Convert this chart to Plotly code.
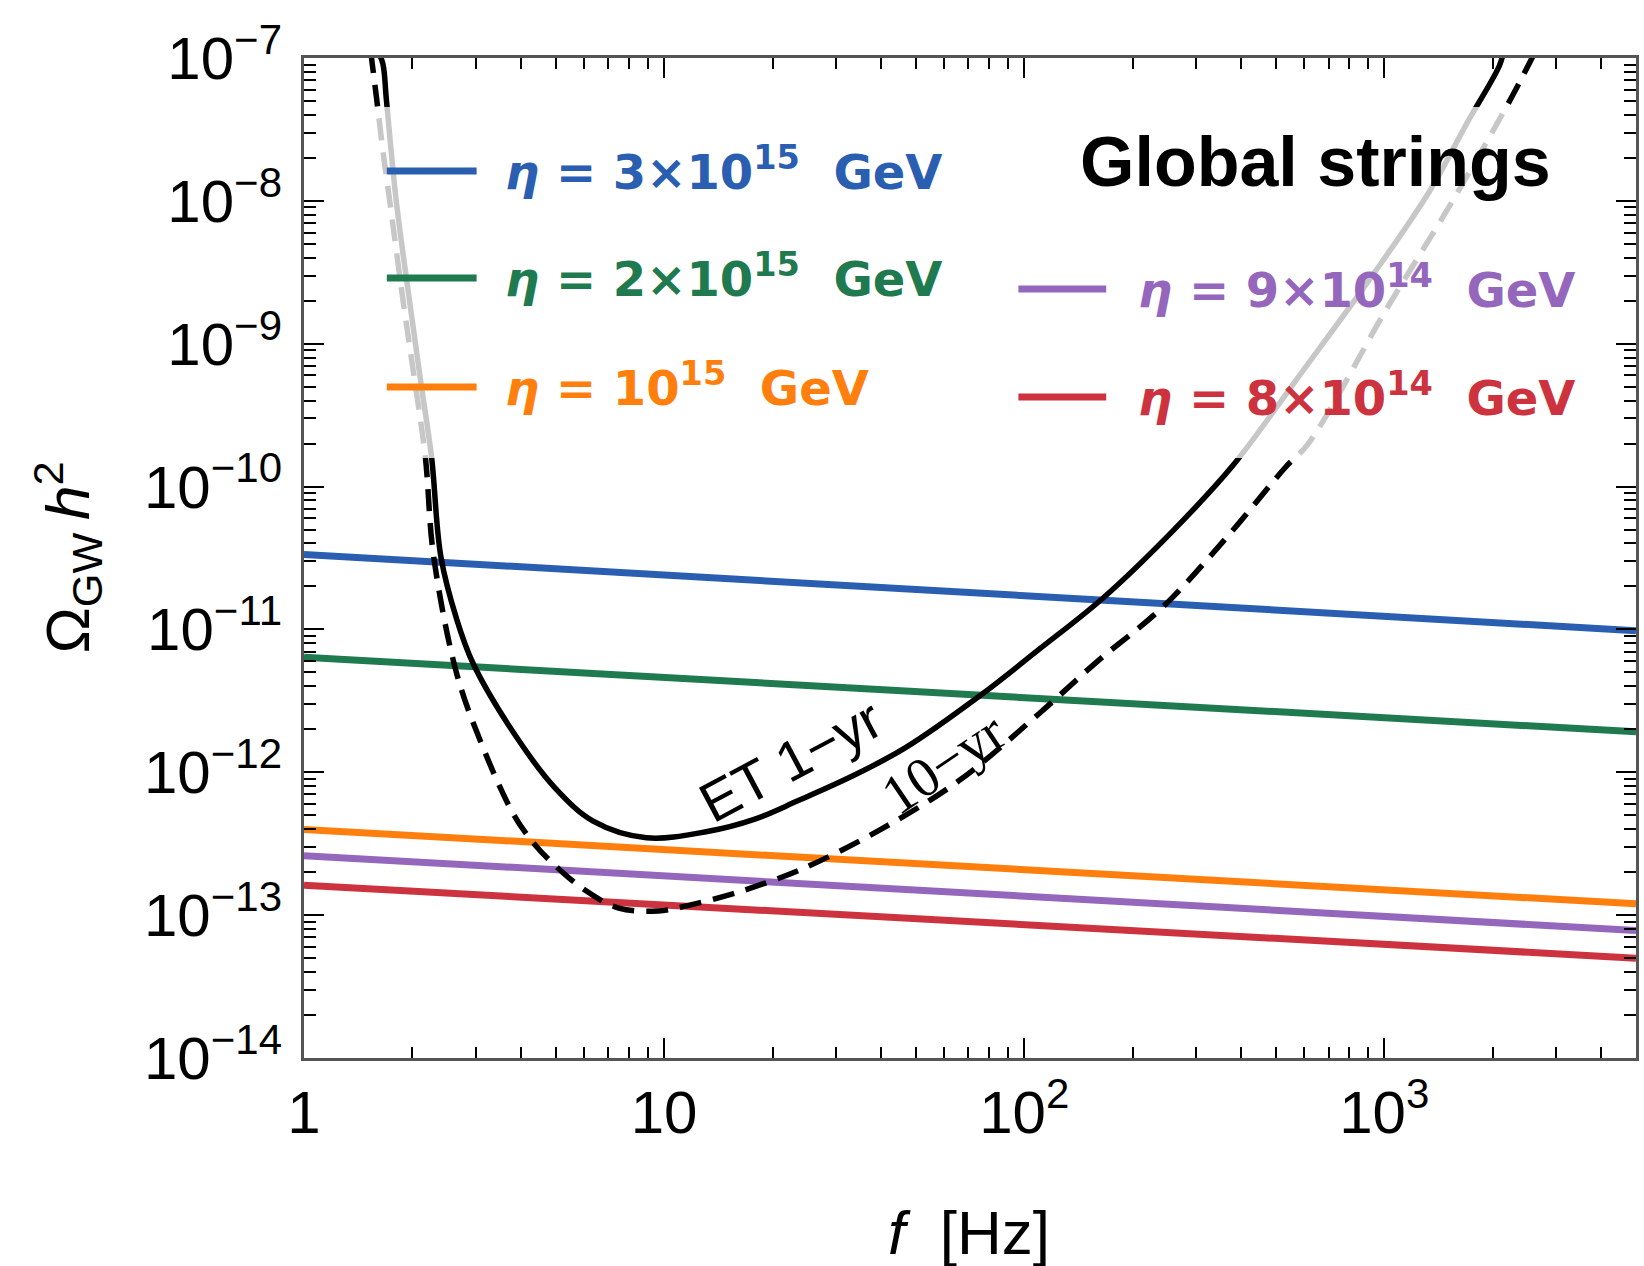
import plotly.graph_objects as go

# ---------------- data ----------------
# ET 1-yr sensitivity curve (solid)
f_et1 = [1.603, 1.656, 1.694, 1.803, 1.963, 2.113, 2.260, 2.399, 2.649, 2.951, 3.899,
         4.977, 6.353, 8.93, 13.18, 17.78, 23.5, 33.1, 46.7, 75.3, 109.9, 165.6,
         258.8, 377.6, 590.0, 940.0, 1330.0, 1710.0, 2090.0, 2150.0]
omega_et1 = [1.12e-7, 9.1e-8, 5.06e-8, 1.01e-8, 2.0e-9, 5.25e-10, 1.62e-10, 3.24e-11,
             1.20e-11, 5.75e-12, 1.75e-12, 7.78e-13, 4.55e-13, 3.48e-13, 3.85e-13,
             4.68e-13, 6.31e-13, 9.33e-13, 1.48e-12, 3.43e-12, 7.24e-12, 1.66e-11,
             4.90e-11, 1.38e-10, 6.31e-10, 3.16e-9, 1.15e-8, 3.63e-8, 8.9e-8, 1.15e-7]

# ET 10-yr sensitivity curve (dashed)
f_et10 = [1.531, 1.589, 1.656, 1.730, 1.884, 2.004, 2.173, 2.286, 2.642, 3.062,
          3.811, 4.355, 4.920, 5.998, 7.482, 9.638, 12.02, 15.24, 18.62, 24.04,
          39.3, 65.8, 109.9, 160.3, 241.5, 364.8, 530.9, 615.2, 1021.0, 1514.0,
          2153.0, 2443.0, 2630.0]
omega_et10 = [1.12e-7, 5.33e-8, 2.25e-8, 1.0e-8, 2.0e-9, 6.84e-10, 1.60e-10, 3.39e-11,
              5.13e-12, 1.75e-12, 5.13e-13, 3.16e-13, 2.29e-13, 1.51e-13, 1.12e-13,
              1.07e-13, 1.19e-13, 1.39e-13, 1.64e-13, 2.09e-13, 3.89e-13, 8.71e-13,
              2.57e-12, 6.03e-12, 1.42e-11, 4.40e-11, 1.36e-10, 2.0e-10, 1.80e-9,
              9.12e-9, 4.27e-8, 7.76e-8, 1.12e-7]

# global-string GW spectra for several symmetry-breaking scales
f_grid = [1, 10, 100, 1000, 5000]
omega_eta_3e15 = [3.35e-11, 2.40e-11, 1.72e-11, 1.23e-11, 9.8e-12]
omega_eta_2e15 = [6.38e-12, 4.61e-12, 3.33e-12, 2.41e-12, 1.92e-12]
omega_eta_1e15 = [3.98e-13, 2.88e-13, 2.09e-13, 1.51e-13, 1.20e-13]
omega_eta_9e14 = [2.61e-13, 1.88e-13, 1.36e-13, 9.8e-14, 7.8e-14]
omega_eta_8e14 = [1.62e-13, 1.18e-13, 8.6e-14, 6.25e-14, 5.0e-14]

eta_labels = ["<i>η</i> = 3×10<sup>15</sup>\u00a0\u00a0GeV",
              "<i>η</i> = 2×10<sup>15</sup>\u00a0\u00a0GeV",
              "<i>η</i> = 10<sup>15</sup>\u00a0\u00a0GeV",
              "<i>η</i> = 9×10<sup>14</sup>\u00a0\u00a0GeV",
              "<i>η</i> = 8×10<sup>14</sup>\u00a0\u00a0GeV"]
eta_colors = ["#2a5eb0", "#1f7a50", "#ff7f0e", "#9467bd", "#cc333f"]

y_tickvals = [1e-14, 1e-13, 1e-12, 1e-11, 1e-10, 1e-9, 1e-8, 1e-7]
y_ticktext = ["10<sup>−14</sup>", "10<sup>−13</sup>", "10<sup>−12</sup>", "10<sup>−11</sup>",
              "10<sup>−10</sup>", "10<sup>−9</sup>", "10<sup>−8</sup>", "10<sup>−7</sup>"]
x_tickvals = [1, 10, 100, 1000]
x_ticktext = ["1", "10", "10<sup>2</sup>", "10<sup>3</sup>"]

# ---------------- figure ----------------
W, H = 1644, 1266
ML, MR, MT, MB = 304, 5, 58, 208
PW, PH = W - ML - MR, H - MT - MB


def px(xp):
    return (xp - ML) / PW


def py(yp):
    return (H - MB - yp) / PH


fig = go.Figure()

series = [omega_eta_3e15, omega_eta_2e15, omega_eta_1e15, omega_eta_9e14, omega_eta_8e14]
for vals, col, lab in zip(series, eta_colors, eta_labels):
    fig.add_trace(go.Scatter(x=f_grid, y=vals, mode="lines", name=lab,
                             line=dict(color=col, width=7), showlegend=False))

fig.add_trace(go.Scatter(x=f_et1, y=omega_et1, mode="lines", name="ET 1-yr",
                         line=dict(color="black", width=5.5, shape="spline", smoothing=1.0),
                         showlegend=False))
fig.add_trace(go.Scatter(x=f_et10, y=omega_et10, mode="lines", name="ET 10-yr",
                         line=dict(color="black", width=5.5, dash="22px,12px",
                                   shape="spline", smoothing=1.0),
                         showlegend=False))

shapes = []
# translucent white band behind the legend (fades the curves there)
shapes.append(dict(type="rect", xref="paper", yref="paper", x0=0.02, x1=0.98,
                   y0=py(458), y1=py(107), fillcolor="rgba(255,255,255,0.78)",
                   line=dict(width=0), layer="above"))

# legend sample lines
leg_pos = [(387, 477, 171), (387, 477, 278), (387, 477, 387),
           (1020, 1108, 289), (1020, 1108, 397)]
text_x = [503, 503, 503, 1138, 1138]
annotations = []
for (x0, x1, yy), col, lab, tx in zip(leg_pos, eta_colors, eta_labels, text_x):
    shapes.append(dict(type="line", xref="paper", yref="paper", x0=px(x0), x1=px(x1),
                       y0=py(yy), y1=py(yy), line=dict(color=col, width=7), layer="above"))
    annotations.append(dict(xref="paper", yref="paper", x=px(tx), y=py(yy - 2),
                            xanchor="left", yanchor="middle", showarrow=False, text=lab,
                            font=dict(family="DejaVu Sans", size=48, color=col,
                                      weight="bold")))

annotations.append(dict(xref="paper", yref="paper", x=px(1318), y=py(162),
                        xanchor="center", yanchor="middle", showarrow=False,
                        text="Global strings",
                        font=dict(family="Liberation Sans", size=70, color="black",
                                  weight="bold")))
annotations.append(dict(xref="paper", yref="paper", x=px(792), y=py(760),
                        xanchor="center", yanchor="middle", showarrow=False,
                        text="ET 1−yr", textangle=-28,
                        font=dict(family="Liberation Sans", size=56, color="black")))
annotations.append(dict(xref="paper", yref="paper", x=px(945), y=py(763),
                        xanchor="center", yanchor="middle", showarrow=False,
                        text="10−yr", textangle=-34,
                        font=dict(family="Liberation Serif", size=56, color="black")))
# axis titles
annotations.append(dict(xref="paper", yref="paper", x=px(66), y=py(558),
                        xanchor="center", yanchor="middle", showarrow=False,
                        text="Ω<sub>GW</sub>\u2009<i>h</i><sup>2</sup>", textangle=-90,
                        font=dict(family="Liberation Sans", size=62, color="black")))
annotations.append(dict(xref="paper", yref="paper", x=px(970), y=py(1232),
                        xanchor="center", yanchor="middle", showarrow=False,
                        text="<i>f</i>\u00a0\u00a0[Hz]",
                        font=dict(family="Liberation Sans", size=62, color="black")))

x_minor = [m * 10 ** k for k in range(0, 4) for m in range(2, 10) if m * 10 ** k <= 5000]
y_minor = [m * 10.0 ** k for k in range(-14, -7) for m in range(2, 10)]

axis_common = dict(showline=True, linecolor="#555555", linewidth=3, mirror="allticks",
                   ticks="inside", tickcolor="black", tickwidth=2, showgrid=False,
                   zeroline=False,
                   tickfont=dict(family="Liberation Sans", size=60, color="black"))

fig.update_xaxes(type="log", range=[0, 3.699], tickmode="array", tickvals=x_tickvals,
                 ticktext=x_ticktext, ticklen=20, ticklabelstandoff=0,
                 minor=dict(tickmode="array", tickvals=x_minor, ticks="inside", ticklen=11,
                            tickcolor="black", tickwidth=2, showgrid=False),
                 **axis_common)
fig.update_yaxes(type="log", range=[-14, -7], tickmode="array", tickvals=y_tickvals,
                 ticktext=y_ticktext, ticklen=20, ticklabelstandoff=7,
                 minor=dict(tickmode="array", tickvals=y_minor, ticks="inside", ticklen=12,
                            tickcolor="black", tickwidth=2, showgrid=False),
                 **axis_common)

fig.update_layout(width=W, height=H, margin=dict(l=ML, r=MR, t=MT, b=MB),
                  paper_bgcolor="white", plot_bgcolor="white",
                  shapes=shapes, annotations=annotations, showlegend=False)

fig.write_html("out.html", config={"displayModeBar": False},
               post_script="document.body.style.margin='0px';"
                           "document.body.style.overflow='hidden';")
